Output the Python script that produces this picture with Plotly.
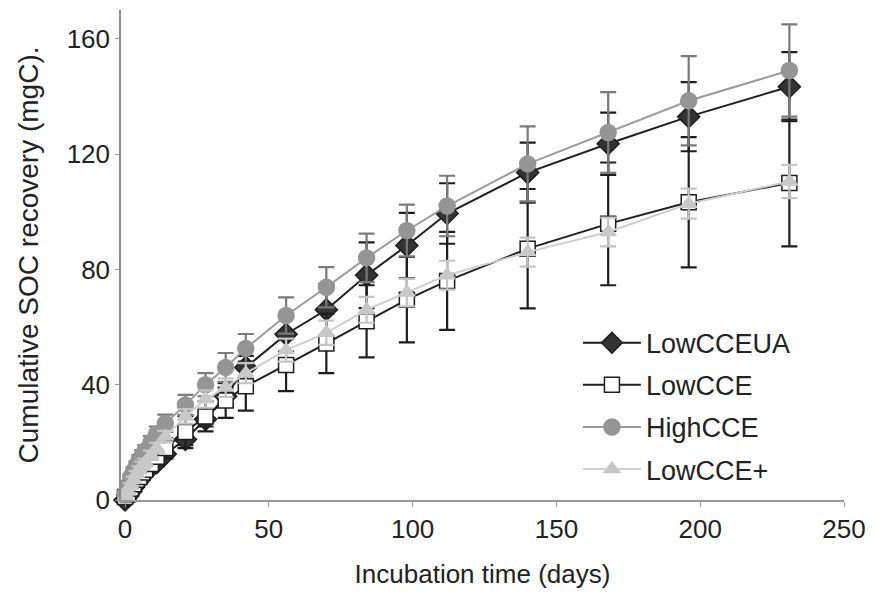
import plotly.graph_objects as go

days = [0, 1, 2, 3, 4, 5, 6, 7, 9, 11, 14, 21, 28, 35, 42, 56, 70, 84, 98, 112, 140, 168, 196, 231]

low_ccea = [0, 1.5, 3, 4.5, 6, 7, 8.5, 9.5, 11.5, 13, 16, 21, 28, 36, 46, 57.5, 66, 78, 88.3, 99.4, 113.6, 123.6, 133, 143.4]
low_ccea_err = [0.3, 0.4, 0.5, 0.6, 0.7, 0.8, 0.9, 1, 1.2, 1.4, 1.6, 2, 2.5, 3, 4, 6, 9, 11.4, 11.3, 10.5, 10.4, 10.8, 12, 12]

low_cce = [1, 2, 4, 5.5, 7, 8, 9.5, 10.5, 12.5, 15, 18, 23.6, 29, 34.5, 39.5, 46.8, 54.3, 62, 69.5, 76, 87.2, 95.8, 103.3, 110]
low_cce_err = [0.5, 0.7, 0.9, 1, 1.2, 1.4, 1.6, 1.8, 2.2, 2.8, 3.5, 5.6, 5.2, 6, 8.5, 9, 10.3, 12.5, 14.8, 17, 20.7, 21.3, 22.6, 22]

high_cce = [2, 5, 8, 10, 12, 14, 15.5, 17, 20, 23, 26.6, 33, 40, 46, 52.6, 64, 73.8, 84, 93.5, 102, 116.6, 127.5, 138.5, 149]
high_cce_err = [0.5, 0.8, 1, 1.2, 1.4, 1.6, 1.8, 2, 2.2, 2.5, 3, 3.5, 4, 5, 5, 6.3, 7, 8.4, 9, 10.5, 13, 14, 15.5, 16]

low_cce_plus = [1, 3, 5, 7, 9, 10.5, 12, 13, 15.5, 18, 22, 29, 35, 39, 44, 52, 58, 66, 72, 78, 86, 93, 102.8, 110.5]
low_cce_plus_err = [0.4, 0.6, 0.8, 1, 1.1, 1.2, 1.3, 1.4, 1.6, 1.8, 2, 2.5, 3, 3.2, 3.5, 4, 4.2, 4.5, 4.8, 5, 5, 5, 5.2, 5.8]

series_names = ["LowCCEUA", "LowCCE", "HighCCE", "LowCCE+"]

FONT = "Liberation Sans, Arial, sans-serif"

fig = go.Figure()

specs = [
    (series_names[0], low_ccea, low_ccea_err, "#1e1e1e", "diamond", "#333333", "#1e1e1e", 17, "#1e1e1e"),
    (series_names[1], low_cce, low_cce_err, "#1e1e1e", "square", "#ffffff", "#1e1e1e", 15, "#1e1e1e"),
    (series_names[2], high_cce, high_cce_err, "#9a9a9a", "circle", "#959595", "#959595", 16, "#7a7a7a"),
    (series_names[3], low_cce_plus, low_cce_plus_err, "#cfcfcf", "triangle-up", "#c8c8c8", "#c8c8c8", 14, "#c4c4c4"),
]

for i, (name, y, err, lc, sym, fill, mline, msize, ecol) in enumerate(specs):
    fig.add_trace(go.Scatter(
        x=days, y=y, name=name, mode="lines+markers",
        legendgroup=f"g{i}",
        line=dict(color=lc, width=2),
        marker=dict(symbol=sym, size=msize, color=fill, line=dict(color=mline, width=1.5)),
        error_y=dict(type="data", array=err, visible=True, color=ecol, thickness=2.2, width=8),
        cliponaxis=False,
    ))

fig.update_layout(
    width=876, height=609,
    margin=dict(l=121, r=29, t=10, b=109),
    paper_bgcolor="white", plot_bgcolor="white",
    font=dict(family=FONT, size=24, color="#222222"),
    showlegend=True,
    legend=dict(
        x=0.632, y=0.37, xanchor="left", yanchor="top",
        bgcolor="rgba(0,0,0,0)", borderwidth=0,
        font=dict(family=FONT, size=27, color="#222222"),
        itemwidth=58, tracegroupgap=4, traceorder="grouped",
    ),
    xaxis=dict(
        range=[-1.4, 250], tickvals=[0, 50, 100, 150, 200, 250],
        showgrid=False, zeroline=False,
        showline=True, linecolor="#9a9a9a", linewidth=1.5,
        ticks="outside", ticklen=5, tickcolor="#9a9a9a",
        tickfont=dict(family=FONT, size=26, color="#222222"),
        title=dict(text="Incubation time (days)", font=dict(family=FONT, size=26, color="#222222"), standoff=22),
    ),
    yaxis=dict(
        range=[0, 170], tickvals=[0, 40, 80, 120, 160],
        showgrid=False, zeroline=False,
        showline=True, linecolor="#8a8a8a", linewidth=1.5,
        ticks="outside", ticklen=4, tickcolor="#9a9a9a",
        tickfont=dict(family=FONT, size=26, color="#222222"),
        title=dict(text="Cumulative SOC recovery (mgC).", font=dict(family=FONT, size=28, color="#222222"), standoff=20),
    ),
)

fig.write_html("out.html")
